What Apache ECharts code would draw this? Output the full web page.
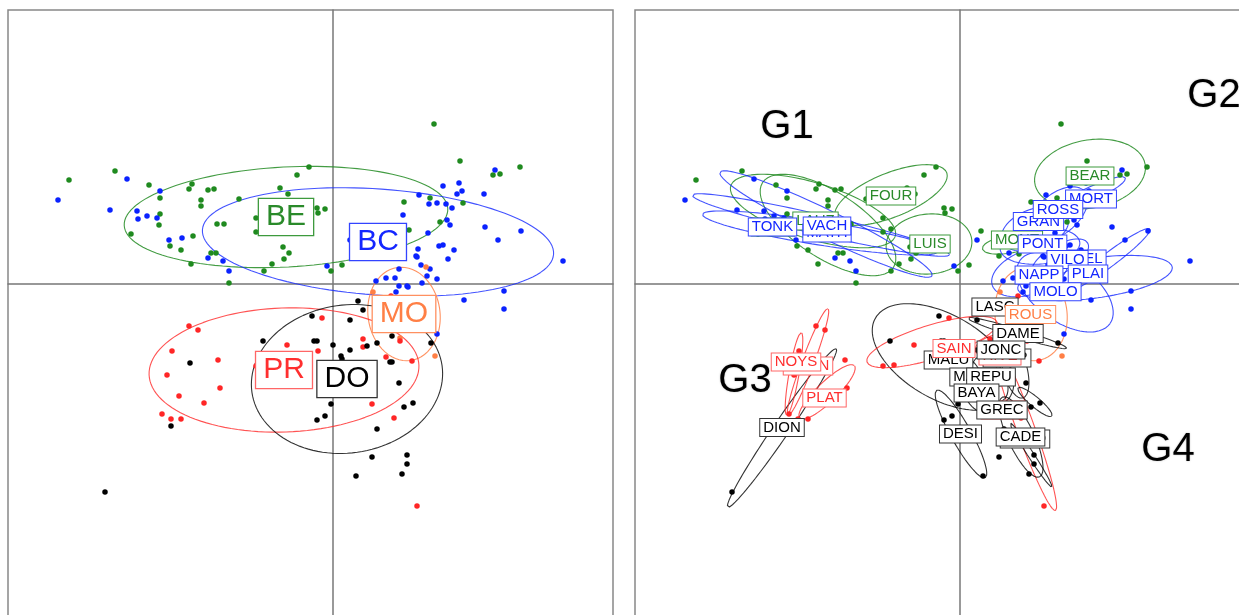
<!DOCTYPE html>
<html><head><meta charset="utf-8">
<script src="https://cdn.jsdelivr.net/npm/echarts@6/dist/echarts.min.js"></script>
<style>html,body{margin:0;padding:0;background:#fff}#c{width:1239px;height:615px}</style>
</head><body><div id="c"></div>
<script>
// ---------------- DATA ----------------
const groupNames = ['BE', 'BC', 'MO', 'PR', 'DO'];

const ptsBE = [[-2.64,1.04],[-2.18,1.13],[-1.84,0.99],[-1.73,0.86],[-1.73,0.70],[-1.74,0.59],[-2.02,0.50],[-1.44,0.95],[-1.41,1.00],[-1.32,0.84],[-1.32,0.78],[-1.25,0.94],[-1.19,0.95],[-1.40,0.48],[-1.63,0.38],[-1.52,0.34],[-1.16,0.60],[-1.09,0.60],[-1.22,0.31],[-1.17,0.31],[-1.42,0.20],[-1.04,0.01],[-0.94,0.85],[-0.77,0.66],[-0.77,0.52],[-0.69,0.55],[-0.50,0.37],[-0.44,0.31],[-0.49,0.25],[-0.61,0.20],[-0.69,0.13],[-0.53,0.96],[-0.45,0.90],[-0.36,1.09],[-0.24,1.17],[-0.16,0.76],[-0.08,0.75],[-0.15,0.71],[0.09,0.19],[-0.02,0.13],[0.21,0.53],[0.39,0.28],[0.59,0.30],[0.71,0.82],[0.97,0.86],[1.30,0.81],[1.07,0.62],[0.76,0.54],[1.01,1.60],[1.27,1.23],[1.87,1.17],[1.60,1.09],[1.67,1.10]];

const ptsBC = [[-2.75,0.84],[-2.23,0.74],[-2.06,1.05],[-1.73,0.93],[-1.96,0.73],[-1.95,0.65],[-1.86,0.68],[-1.76,0.66],[-1.64,0.44],[-1.51,0.46],[-1.25,0.26],[-1.10,0.23],[-1.04,0.13],[-0.06,0.18],[0.17,0.44],[0.49,0.31],[1.62,1.14],[1.10,0.98],[1.26,1.01],[1.29,0.93],[1.24,0.90],[1.51,0.90],[0.86,0.89],[0.96,0.80],[1.04,0.81],[1.13,0.80],[1.19,0.76],[0.70,0.69],[1.14,0.64],[1.17,0.59],[1.52,0.57],[1.88,0.53],[1.65,0.44],[0.95,0.51],[1.06,0.38],[1.10,0.39],[1.21,0.34],[1.15,0.25],[0.85,0.35],[0.83,0.28],[0.84,0.27],[2.30,0.23],[0.88,0.19],[0.97,0.15],[0.94,0.08],[0.89,0.01],[1.04,0.05],[0.66,0.15],[0.53,0.06],[0.62,0.06],[0.43,0.03],[0.66,-0.02],[0.74,-0.02],[0.75,-0.03],[0.63,-0.08],[1.71,-0.07],[1.31,-0.16],[1.71,-0.25],[1.04,-0.50]];

const ptsMO = [[0.93,0.17],[0.40,-0.08],[0.67,-0.54],[1.02,-0.72]];

const ptsPR = [[-1.44,-0.42],[-1.35,-0.46],[-1.61,-0.67],[-1.15,-0.76],[-1.66,-0.91],[-1.54,-1.12],[-1.13,-1.04],[-1.29,-1.19],[-1.71,-1.30],[-1.62,-1.35],[-1.52,-1.35],[-0.46,-0.61],[-0.15,-0.67],[-0.11,-0.34],[0.30,-0.55],[0.30,-0.63],[0.39,-1.20],[0.67,-0.57],[0.53,-0.73],[0.79,-0.77],[0.61,-1.34],[0.84,-2.22],[0.58,-0.12],[-0.77,-0.82],[-0.66,-0.81]];

const ptsDO = [[-2.28,-2.08],[-1.43,-0.79],[-1.62,-1.42],[-0.70,-0.57],[-0.21,-0.32],[-0.19,-0.57],[-0.16,-0.57],[0.00,-0.61],[0.17,-0.66],[0.08,-0.72],[0.09,-0.75],[-0.02,-1.20],[-0.16,-1.36],[-0.08,-1.32],[0.17,-0.36],[0.25,-0.17],[0.30,-0.26],[0.34,-0.62],[0.44,-0.59],[0.44,-1.45],[0.39,-1.73],[0.23,-1.92],[0.59,-0.52],[0.98,-0.59],[0.57,-0.78],[0.59,-0.78],[0.66,-0.99],[0.71,-1.23],[0.80,-1.19],[0.74,-1.71],[0.74,-1.80],[0.69,-1.90]];

// group ellipses (left panel): [cx, cy, semi-major, semi-minor, angle deg]
const ellBE = [-0.47, 0.67, 1.62, 0.50, 3];
const ellBC = [0.45, 0.42, 1.76, 0.53, -4];
const ellMO = [0.71, -0.30, 0.47, 0.36, 98];
const ellPR = [-0.49, -0.86, 1.35, 0.62, 2];
const ellDO = [0.14, -0.95, 0.96, 0.74, 8];

// sites (right panel), in drawing order
const siteNames  = ['GRIS','LAUZ','FOUR','LUIS','BEAR','MONT',
                    'MATH','TONK','VACH','BREL','GRAN','MORT','ROSS','PONT','VILO','NAPP','PLAI','MOLO',
                    'DION','CHAN','NOYS','PLAT','LASC','ROUS','LOUP','RIVE','VIGN','DAME','MALU','SAIN','MARS','JONC','REPU','BAYA','PERO','GREC','DESI','CADE'];
const siteGroups = ['BE','BE','BE','BE','BE','BE',
                    'BC','BC','BC','BC','BC','BC','BC','BC','BC','BC','BC','BC',
                    'DO','PR','PR','PR','DO','MO','DO','PR','PR','DO','DO','PR','DO','DO','DO','DO','DO','DO','DO','DO'];
const siteLabelXY = [[-1.87,0.57],[-1.445,0.63],[-0.69,0.88],[-0.30,0.40],[1.30,1.08],[0.57,0.44],
                     [-1.33,0.51],[-1.875,0.57],[-1.33,0.58],[1.23,0.25],[0.785,0.625],[1.31,0.85],[0.98,0.745],[0.825,0.40],[1.075,0.245],[0.79,0.09],[1.28,0.10],[0.955,-0.077],
                     [-1.78,-1.435],[-1.52,-0.82],[-1.64,-0.78],[-1.355,-1.14],[0.35,-0.23],[0.705,-0.305],[0.47,-0.74],[0.40,-0.72],[0.43,-1.26],[0.58,-0.495],[-0.115,-0.76],[-0.06,-0.645],[0.15,-0.93],[0.41,-0.66],[0.31,-0.93],[0.165,-1.09],[0.65,-1.55],[0.42,-1.26],[0.005,-1.50],[0.605,-1.53]];
const siteEllipses = [[-1.32,0.59,0.78,0.33,-33],[-1.47,0.73,0.86,0.28,-17],[-0.69,0.89,0.60,0.22,22],[-0.31,0.40,0.43,0.30,5],[1.30,1.10,0.56,0.34,10],[0.50,0.40,0.28,0.09,10],
                      [-1.40,0.51,1.19,0.12,-9],[-1.34,0.60,1.18,0.14,-26],[-1.39,0.59,1.32,0.10,-13],[1.50,0.25,0.50,0.07,37],[0.75,0.55,0.35,0.20,20],[1.31,0.90,0.38,0.07,25],[0.98,0.70,0.35,0.20,40],[0.80,0.38,0.40,0.18,5],[1.00,0.25,0.32,0.14,30],[0.70,0.12,0.40,0.22,20],[1.35,0.06,0.78,0.20,8],[1.05,-0.08,0.55,0.30,-35],
                      [-1.78,-1.44,0.96,0.08,55.6],[-1.52,-0.78,0.57,0.06,69.5],[-1.66,-0.90,0.42,0.05,80],[-1.33,-1.08,0.38,0.10,44],[0.36,-0.25,0.15,0.04,-15],[0.71,-0.30,0.47,0.36,98],[0.55,-0.85,0.30,0.12,-75],[0.40,-0.62,0.25,0.12,10],[0.64,-1.40,0.92,0.09,-70],[0.57,-0.49,0.52,0.04,-17],[-0.17,-0.73,0.78,0.42,-30],[-0.28,-0.58,0.68,0.17,17],[0.10,-0.90,0.20,0.10,-60],[0.45,-0.70,0.20,0.10,0],[0.30,-0.95,0.25,0.15,-60],[0.15,-1.10,0.20,0.10,-60],[0.71,-1.71,0.38,0.03,-57],[0.75,-1.18,0.22,0.05,-40],[0.01,-1.50,0.50,0.10,-61],[0.61,-1.53,0.44,0.13,-65]];

const gLabels = ['G1', 'G2', 'G3', 'G4'];
const gLabelXY = [[-1.73, 1.57], [2.54, 1.88], [-2.15, -0.97], [2.08, -1.66]];

// ---------------- STYLE ----------------
const ptColor   = {BE:'#1f8a1f', BC:'#0a22ff', MO:'#ff7f45', PR:'#ff2626', DO:'#000000'};
const lineColor = {BE:'rgba(34,139,34,0.85)', BC:'rgba(20,40,255,0.8)', MO:'rgba(255,127,69,0.85)', PR:'rgba(255,40,40,0.8)', DO:'rgba(0,0,0,0.8)'};
const txtColor  = {BE:'#2a8a2a', BC:'#1426ff', MO:'#ff7f45', PR:'#ff2f2f', DO:'#000000'};
const boxColor  = {BE:'#3d9a3d', BC:'#3344ff', MO:'#ff9060', PR:'#ff6666', DO:'#333333'};
const groupPts = {BE:ptsBE, BC:ptsBC, MO:ptsMO, PR:ptsPR, DO:ptsDO};
const groupEll = {BE:ellBE, BC:ellBC, MO:ellMO, PR:ellPR, DO:ellDO};

function ellipsePts(e) {
  const [cx, cy, a, b, ang] = e, th = ang * Math.PI / 180, out = [];
  for (let i = 0; i <= 120; i++) {
    const t = i / 120 * 2 * Math.PI;
    out.push([cx + a * Math.cos(t) * Math.cos(th) - b * Math.sin(t) * Math.sin(th),
              cy + a * Math.cos(t) * Math.sin(th) + b * Math.sin(t) * Math.cos(th)]);
  }
  return out;
}

const axisCommon = {
  type: 'value', axisTick: {show: false}, axisLabel: {show: false}, splitLine: {show: false},
  axisLine: {show: true, onZero: true, lineStyle: {color: '#777', width: 1.5}}
};
const xAxes = [0, 1].map(i => Object.assign({}, axisCommon, {gridIndex: i, min: -3.25, max: 2.80}));
const yAxes = [0, 1].map(i => Object.assign({}, axisCommon, {gridIndex: i, min: -3.56, max: 2.74}));

const series = [];
function ellSeries(e, g, idx) {
  series.push({type: 'line', xAxisIndex: idx, yAxisIndex: idx, data: ellipsePts(e), symbol: 'none',
    smooth: false, silent: true, z: 2, lineStyle: {color: lineColor[g], width: 1.1}});
}
groupNames.forEach(g => ellSeries(groupEll[g], g, 0));
siteNames.forEach((n, i) => ellSeries(siteEllipses[i], siteGroups[i], 1));
[0, 1].forEach(idx => {
  groupNames.forEach(g => {
    series.push({type: 'scatter', xAxisIndex: idx, yAxisIndex: idx, data: groupPts[g], symbolSize: 5.5,
      silent: true, z: 3, itemStyle: {color: ptColor[g], opacity: 1}});
  });
});
const invisible = {color: 'rgba(255,255,255,0)', borderWidth: 0, opacity: 1};
series.push({type: 'scatter', xAxisIndex: 0, yAxisIndex: 0, symbolSize: 0, silent: true, z: 5,
  itemStyle: invisible,
  data: groupNames.map(g => ({name: g, value: [groupEll[g][0], groupEll[g][1]],
    label: {color: txtColor[g], borderColor: boxColor[g]}})),
  label: {show: true, position: 'inside', formatter: '{b}', fontFamily: 'Liberation Sans, Arial, sans-serif',
    fontSize: 30, lineHeight: 30, padding: [3, 7, 3, 7], backgroundColor: '#fff', borderWidth: 1.3, opacity: 1}
});
series.push({type: 'scatter', xAxisIndex: 1, yAxisIndex: 1, symbolSize: 0, silent: true, z: 5,
  itemStyle: invisible,
  data: siteNames.map((n, i) => ({name: n, value: siteLabelXY[i],
    label: {color: txtColor[siteGroups[i]], borderColor: boxColor[siteGroups[i]]}})),
  label: {show: true, position: 'inside', formatter: '{b}', fontFamily: 'Liberation Sans, Arial, sans-serif',
    fontSize: 15, lineHeight: 14, padding: [2, 3, 1, 3], backgroundColor: '#fff', borderWidth: 1, opacity: 1}
});
series.push({type: 'scatter', xAxisIndex: 1, yAxisIndex: 1, symbolSize: 0, silent: true, z: 6,
  itemStyle: invisible,
  data: gLabels.map((n, i) => ({name: n, value: gLabelXY[i]})),
  label: {show: true, position: 'inside', formatter: '{b}', fontFamily: 'Liberation Sans, Arial, sans-serif',
    fontSize: 40, color: '#000', opacity: 1, textShadowColor: 'rgba(0,0,0,0.25)', textShadowBlur: 2}
});

const chart = echarts.init(document.getElementById('c'), null, {renderer: 'canvas'});
chart.setOption({
  animation: false,
  backgroundColor: '#fff',
  grid: [
    {left: 8, top: 10, width: 605, height: 630, outerBoundsMode: 'none', containLabel: false, show: true, borderColor: '#888', borderWidth: 1.5, backgroundColor: 'transparent'},
    {left: 635, top: 10, width: 605, height: 630, outerBoundsMode: 'none', containLabel: false, show: true, borderColor: '#888', borderWidth: 1.5, backgroundColor: 'transparent'}
  ],
  xAxis: xAxes, yAxis: yAxes, series: series
});
</script></body></html>
